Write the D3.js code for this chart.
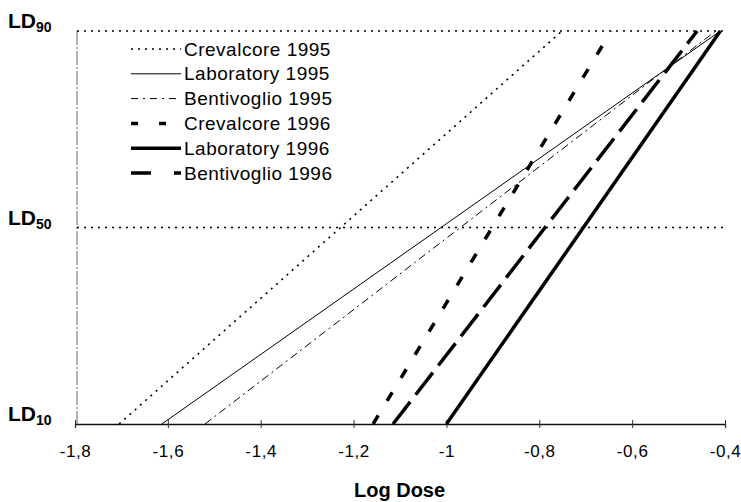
<!DOCTYPE html>
<html>
<head>
    <style>
        body { margin: 0; background: #fff; }
        svg { font-family: "Liberation Sans", Arial, sans-serif; }
        .legend text { font-size: 19px; fill: #000; letter-spacing: 0.5px; }
        .ld { font-size: 21px; font-weight: bold; }
        .title { font-size: 20px; font-weight: bold; }
    </style>
    <script type="text/javascript" src="https://d3js.org/d3.v7.min.js"></script>
</head>
<body>
<svg width="741" height="502"></svg>
<script>
    // data: log dose at LD10 and LD90 for each population
    let populations = ["Crevalcore 1995", "Laboratory 1995", "Bentivoglio 1995",
                       "Crevalcore 1996", "Laboratory 1996", "Bentivoglio 1996"];
    let ld10 = [-1.705, -1.613, -1.52, -1.158, -1.0, -1.115];
    let ld90 = [-0.751, -0.41, -0.42, -0.645, -0.41, -0.46];
    let xTicks = [-1.8, -1.6, -1.4, -1.2, -1, -0.8, -0.6, -0.4];
    let ldLevels = [10, 50, 90];

    // line styles, one per population
    let styles = [
        { width: 1.6, dash: "2,5" },
        { width: 1, dash: null },
        { width: 1, dash: "8,4,2,4" },
        { width: 3.5, dash: "10,17" },
        { width: 3.5, dash: null },
        { width: 3.5, dash: "28,9" }
    ];
    let legendDash = ["2,5", null, "7,5,2,5", "7,21", null, "20,23,8"];

    let svg = d3.select("svg");

    let x = d3.scaleLinear().domain([-1.8, -0.4]).range([75, 725]);
    let y = d3.scaleLinear().domain([10, 90]).range([424, 31]);

    // y axis line
    svg.append("line")
        .attr("x1", x(-1.8) + 2).attr("x2", x(-1.8) + 2)
        .attr("y1", y(90)).attr("y2", y(10))
        .attr("stroke", "#666").attr("stroke-width", 1)
        .attr("stroke-dasharray", "14,2,2,2");

    // dotted reference lines at LD50 and LD90
    svg.selectAll(".ref")
        .data(ldLevels.filter(function(d) { return d !== 10; }))
        .enter()
        .append("line")
        .attr("class", "ref")
        .attr("x1", x(-1.8) + 2).attr("x2", x(-0.4))
        .attr("y1", function(d) { return y(d); })
        .attr("y2", function(d) { return y(d); })
        .attr("stroke", "#000").attr("stroke-width", 1.6)
        .attr("stroke-dasharray", "2,5");

    // x axis
    let xAxis = svg.append("g")
        .attr("transform", "translate(0," + y(10) + ")")
        .call(d3.axisBottom(x)
            .tickValues(xTicks)
            .tickSize(4)
            .tickPadding(17)
            .tickFormat(function(d) { return String(d).replace(".", ","); }));
    xAxis.select(".domain").attr("stroke", "#111").attr("stroke-width", 1.3);
    xAxis.selectAll(".tick line").attr("y1", -4).attr("stroke", "#333");
    xAxis.selectAll("text")
        .attr("font-family", "Liberation Sans, Arial, sans-serif")
        .attr("font-size", 17)
        .attr("letter-spacing", "0.6px")
        .attr("fill", "#000");

    // LD labels
    let ld = svg.selectAll(".ld")
        .data(ldLevels)
        .enter()
        .append("text")
        .attr("class", "ld")
        .attr("x", 8)
        .attr("y", function(d) { return y(d) - 3; });
    ld.append("tspan").text("LD");
    ld.append("tspan")
        .attr("dy", 4)
        .attr("font-size", 14)
        .text(function(d) { return d; });

    // dose-response lines
    let line = d3.line()
        .x(function(d) { return x(d[0]); })
        .y(function(d) { return y(d[1]); });

    svg.selectAll(".series")
        .data(populations)
        .enter()
        .append("path")
        .attr("class", "series")
        .attr("d", function(d, i) { return line([[ld10[i], 10], [ld90[i], 90]]); })
        .attr("fill", "none")
        .attr("stroke", "#000")
        .attr("stroke-width", function(d, i) { return styles[i].width; })
        .attr("stroke-dasharray", function(d, i) { return styles[i].dash; });

    // legend
    let legend = svg.append("g").attr("class", "legend");
    let row = legend.selectAll("g")
        .data(populations)
        .enter()
        .append("g")
        .attr("transform", function(d, i) { return "translate(0," + (49 + i * 24.8) + ")"; });
    row.append("line")
        .attr("x1", 131).attr("x2", 181)
        .attr("y1", 0).attr("y2", 0)
        .attr("stroke", "#000")
        .attr("stroke-width", function(d, i) { return styles[i].width; })
        .attr("stroke-dasharray", function(d, i) { return legendDash[i]; });
    row.append("text")
        .attr("x", 184)
        .attr("y", 6.5)
        .text(function(d) { return d; });

    svg.append("text")
        .attr("class", "title")
        .attr("x", x(-1.2) + 46)
        .attr("y", 497)
        .attr("text-anchor", "middle")
        .text("Log Dose");
</script>
</body>
</html>
